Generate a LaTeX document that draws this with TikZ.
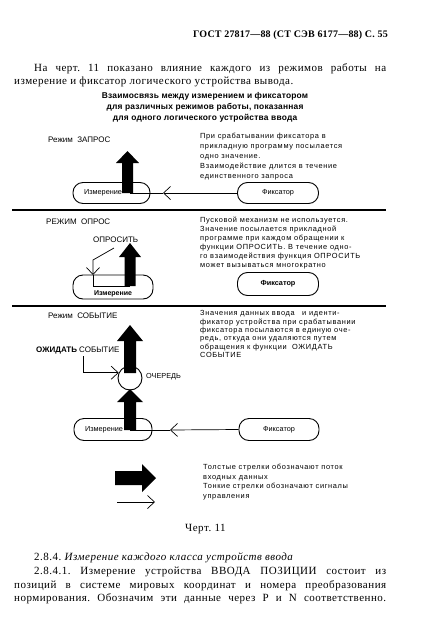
\documentclass[tikz,border=0pt]{standalone}
\usepackage{fontspec}
\setmainfont{Liberation Serif}
\setsansfont{Liberation Sans}
\usetikzlibrary{arrows.meta}
\frenchspacing

\begin{document}
\begin{tikzpicture}[x=1pt, y=-1pt,
        pill/.style={draw, line width=0.9pt, rounded corners=10pt, minimum width=79pt, minimum height=21pt, inner sep=0pt},
        ctrl/.style={line width=0.7pt},
        barb/.style={ctrl, -{Straight Barb[length=7pt, width=13pt]}},
        note/.style={font=\sffamily\fontsize{7.4}{#1}\selectfont\addfontfeatures{LetterSpace=9}, align=left, anchor=west, inner sep=0pt},
        note/.default=9.5,
        mode/.style={font=\sffamily\fontsize{8}{10}\selectfont, anchor=west, inner sep=0pt},
        small/.style={font=\sffamily\fontsize{7.3}{9}\selectfont, inner sep=0pt},
        body/.style={font=\fontsize{11}{13.5}\selectfont\addfontfeatures{LetterSpace=4.5}, anchor=base west, inner sep=0pt},
        sep/.style={line width=1.3pt}]
    \useasboundingbox (0, 0) rectangle (424, 632);

    % page text
    \node[font=\bfseries\fontsize{10}{12}\selectfont\addfontfeatures{LetterSpace=2}, anchor=base east, inner sep=0pt] (head) at (388, 37) {ГОСТ 27817---88 (СТ СЭВ 6177---88) С. 55};
    \node[body] (p1) at (34, 71) {\makebox[352pt][s]{На черт. 11 показано влияние каждого из режимов работы на}};
    \node[body] (p2) at (14, 84) {измерение и фиксатор логического устройства вывода.};
    \node[font=\sffamily\bfseries\fontsize{8.4}{11.3}\selectfont\addfontfeatures{LetterSpace=2.5}, align=center, anchor=north, inner sep=0pt] (title) at (205, 92)
        {Взаимосвязь между измерением и фиксатором\\для различных режимов работы, показанная\\для одного логического устройства ввода};

    % mode ZAPROS
    \node[mode] (m1) at (48, 140) {Режим\ \ ЗАПРОС};
    \node[note=9.8] (t1) at (200, 156.5) {При срабатывании фиксатора в\\прикладную программу посылается\\одно значение.\\Взаимодействие длится в течение\\единственного запроса};
    \node[pill, minimum width=77pt] (izm1) at (111.5, 193) {};
    \node[small] (izm1t) at (103, 193) {Измерение};
    \node[pill, minimum width=81pt] (fix1) at (278, 193) {};
    \node[small] (fix1t) at (278, 193) {Фиксатор};
    \fill (122, 193) -- (122, 163) -- (116, 163) -- (127.5, 151) -- (139, 163) -- (133, 163) -- (133, 193) -- cycle;
    \coordinate (a1) at (163, 193);
    \coordinate (s1) at (130, 193);
    \draw[barb] (fix1.west) -- (a1);
    \draw[ctrl] (a1) -- (s1);
    \draw[sep] (12, 210) -- (386, 210);

    % mode OPROS
    \node[mode] (m2) at (46, 222) {РЕЖИМ\ \ ОПРОС};
    \node[note=9.1] (t2) at (200, 243) {Пусковой механизм не используется.\\Значение посылается прикладной\\программе при каждом обращении к\\функции ОПРОСИТЬ. В течение одно-\\го взаимодействия функция ОПРОСИТЬ\\может вызываться многократно};
    \node[mode] (ask) at (93, 240) {ОПРОСИТЬ};
    \node[pill, minimum width=80pt, minimum height=24pt] (izm2) at (113, 287) {};
    \node[small, font=\sffamily\bfseries\fontsize{7}{9}\selectfont] (izm2t) at (113, 294) {Измерение};
    \node[pill, minimum width=81pt, minimum height=23pt] (fix2) at (278, 284) {};
    \node[small, font=\sffamily\bfseries\fontsize{7.3}{9}\selectfont] (fix2t) at (278, 284) {Фиксатор};
    \fill (124.5, 286) -- (124.5, 257) -- (119, 257) -- (130, 243) -- (141, 257) -- (135.5, 257) -- (135.5, 286) -- cycle;
    \coordinate (q2) at (114, 248);
    \coordinate (k2) at (93, 260);
    \coordinate (a2) at (93, 275);
    \coordinate (s2) at (130, 286);
    \draw[barb] (q2) -- (k2) -- (a2);
    \draw[ctrl] (a2) |- (s2);
    \draw[sep] (12, 306) -- (386, 306);

    % mode SOBYTIE
    \node[mode] (m3) at (48, 316) {Режим\ \ СОБЫТИЕ};
    \node[note=8.3] (t3) at (200, 334) {Значения данных ввода\quad и иденти-\\фикатор устройства при срабатывании\\фиксатора посылаются в единую оче-\\редь, откуда они удаляются путем\\обращения к функции\ \ ОЖИДАТЬ\\СОБЫТИЕ};
    \node[mode] (wait) at (36, 350) {\textbf{ОЖИДАТЬ} СОБЫТИЕ};
    \node[draw, circle, line width=0.9pt, minimum size=24pt, inner sep=0pt] (queue) at (130, 378) {};
    \node[small, anchor=west] (queuet) at (146, 377) {ОЧЕРЕДЬ};
    \node[pill, minimum width=78pt, minimum height=22pt] (izm3) at (113, 429.5) {};
    \node[small] (izm3t) at (104, 429.5) {Измерение};
    \node[pill, minimum width=80pt, minimum height=22pt] (fix3) at (279, 429.5) {};
    \node[small] (fix3t) at (279, 429.5) {Фиксатор};
    \fill (124, 373) -- (124, 341) -- (117, 341) -- (130, 325) -- (143, 341) -- (136, 341) -- (136, 373) -- cycle;
    \fill (124, 430) -- (124, 402) -- (117, 402) -- (130, 389) -- (143, 402) -- (136, 402) -- (136, 430) -- cycle;
    \coordinate (q3) at (83, 356);
    \draw[barb] (q3) |- (queue.155);
    \coordinate (a3) at (170, 430);
    \coordinate (s3) at (130, 430);
    \draw[barb] (fix3.west) -- (a3);
    \draw[ctrl] (a3) -- (s3);

    % legend
    \fill (115, 471) -- (142, 471) -- (142, 464) -- (156, 478) -- (142, 492) -- (142, 485) -- (115, 485) -- cycle;
    \coordinate (l1) at (117, 502);
    \coordinate (l2) at (155, 502);
    \draw[barb] (l1) -- (l2);
    \node[note=9.4] (leg) at (203, 482) {Толстые стрелки обозначают поток\\входных данных\\Тонкие стрелки обозначают сигналы\\управления};
    \node[body] (cap) at (185, 531) {Черт. 11};

    % section 2.8.4
    \node[body] (s284) at (34, 560) {2.8.4. \textit{Измерение каждого класса устройств ввода}};
    \node[body] (b1) at (34, 574) {\makebox[352pt][s]{2.8.4.1. Измерение устройства ВВОДА ПОЗИЦИИ состоит из}};
    \node[body] (b2) at (14, 588) {\makebox[372pt][s]{позиций в системе мировых координат и номера преобразования}};
    \node[body] (b3) at (14, 601) {\makebox[372pt][s]{нормирования. Обозначим эти данные через P и N соответственно.}};
\end{tikzpicture}
\end{document}
